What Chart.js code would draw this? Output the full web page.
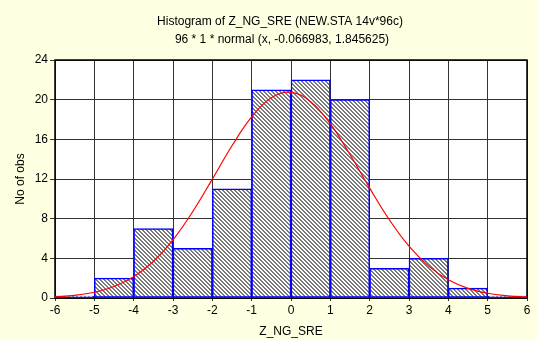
<!DOCTYPE html>
<html>
<head>
<meta charset="utf-8">
<script src="https://cdn.jsdelivr.net/npm/chart.js@4/dist/chart.umd.min.js"></script>
<style>
  body { margin: 0; background: #FFFFE1; }
</style>
</head>
<body>
<canvas id="histogram" width="537" height="340"></canvas>
<script>
// histogram bins (lower edges) and counts
var binStarts = [-6, -5, -4, -3, -2, -1, 0, 1, 2, 3, 4, 5];
var counts = [0, 2, 7, 5, 11, 21, 22, 20, 3, 4, 1, 0];

// expected normal curve, read at half-unit steps
var curveX = [-6, -5.5, -5, -4.5, -4, -3.5, -3, -2.5, -2, -1.5, -1, -0.5, 0,
              0.5, 1, 1.5, 2, 2.5, 3, 3.5, 4, 4.5, 5, 5.5, 6];
var curveY = [0.12, 0.27, 0.58, 1.16, 2.14, 3.68, 5.87, 8.7, 11.99, 15.35, 18.26, 20.19, 20.74,
              19.79, 17.56, 14.47, 11.08, 7.89, 5.22, 3.21, 1.83, 0.97, 0.48, 0.22, 0.09];

var xTicks = [-6, 6, 1];
var yTicks = [0, 24, 4];

var titleLines = ['Histogram of Z_NG_SRE (NEW.STA 14v*96c)', '96 * 1 * normal (x, -0.066983, 1.845625)'];

var FONT = 'Liberation Sans, Arial, sans-serif';

// fine diagonal hatch used to fill the bars
function hatch() {
    var c = document.createElement('canvas');
    c.width = 4; c.height = 4;
    var g = c.getContext('2d');
    g.fillStyle = '#ffffff';
    g.fillRect(0, 0, 4, 4);
    g.fillStyle = '#7a7a7a';
    for (var i = 0; i < 4; i++) {
        g.fillRect(i, i, 1, 1);
        g.fillRect((i + 1) % 4, i, 1, 1);
    }
    return g.createPattern(c, 'repeat');
}

var bars = binStarts.map(function (s, i) { return { x: s + 0.5, y: counts[i] }; });
var curve = curveX.map(function (x, i) { return { x: x, y: curveY[i] }; });

var backdrop = {
    id: 'backdrop',
    beforeDraw: function (chart) {
        var ctx = chart.ctx, a = chart.chartArea;
        ctx.save();
        ctx.fillStyle = '#FFFFE1';
        ctx.fillRect(0, 0, chart.width, chart.height);
        ctx.fillStyle = '#ffffff';
        ctx.fillRect(a.left, a.top, a.right - a.left, a.bottom - a.top);
        ctx.fillStyle = '#000';
        ctx.font = '12px ' + FONT;
        ctx.textAlign = 'center';
        ctx.textBaseline = 'middle';
        ctx.fillText(titleLines[0], 280, 22);
        ctx.fillText(titleLines[1], 282, 40);
        ctx.restore();
    },
    beforeDatasetsDraw: function (chart) {
        var ctx = chart.ctx, a = chart.chartArea;
        ctx.save();
        ctx.strokeStyle = '#000';
        ctx.lineWidth = 1.5;
        ctx.strokeRect(a.left, a.top, a.right - a.left, a.bottom - a.top);
        ctx.restore();
    }
};

new Chart(document.getElementById('histogram'), {
    data: {
        datasets: [{
            type: 'line',
            data: curve,
            borderColor: '#ff0000',
            borderWidth: 1.2,
            pointRadius: 0,
            tension: 0.4,
            fill: false,
            order: 0
        }, {
            type: 'bar',
            data: bars,
            backgroundColor: hatch(),
            borderColor: '#0000ff',
            borderWidth: 1.5,
            borderSkipped: false,
            minBarLength: 2,
            barPercentage: 1,
            categoryPercentage: 1,
            order: 1
        }]
    },
    options: {
        responsive: false,
        animation: false,
        layout: { padding: { left: 0, right: 10, top: 60, bottom: 0 } },
        plugins: { legend: { display: false }, tooltip: { enabled: false } },
        scales: {
            x: {
                type: 'linear',
                offset: false,
                min: xTicks[0], max: xTicks[1],
                afterFit: function (s) { s.height = 42; },
                ticks: { stepSize: xTicks[2], padding: 2, color: '#000', font: { family: FONT, size: 12 } },
                grid: { offset: false, color: '#333', borderDash: [4, 2], tickLength: 3, tickBorderDash: [] },
                border: { display: false },
                title: { display: true, text: 'Z_NG_SRE', color: '#000', font: { family: FONT, size: 12 }, padding: { top: 0, bottom: 1 } }
            },
            y: {
                min: yTicks[0], max: yTicks[1],
                afterFit: function (s) { s.width = 55; },
                ticks: { stepSize: yTicks[2], padding: 2, color: '#000', font: { family: FONT, size: 12 } },
                grid: { color: '#333', borderDash: [4, 2], tickLength: 5, tickBorderDash: [] },
                border: { display: false },
                title: { display: true, text: 'No of obs', color: '#000', font: { family: FONT, size: 12 }, padding: { top: 13, bottom: 0 } }
            }
        }
    },
    plugins: [backdrop]
});
</script>
</body>
</html>
